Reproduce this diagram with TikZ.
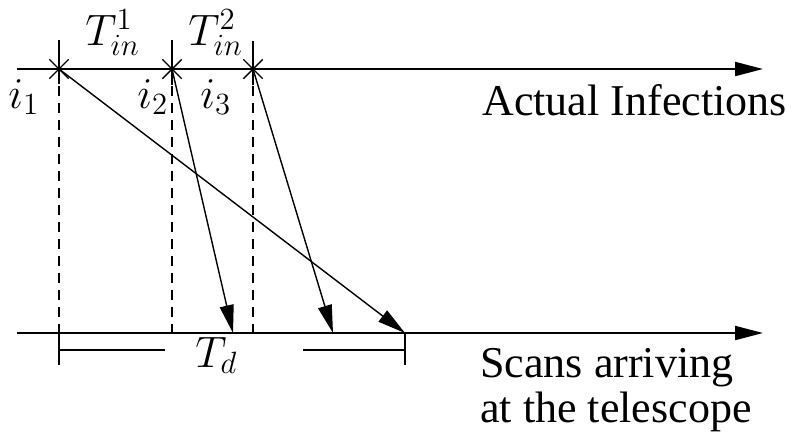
\documentclass[tikz,border=0pt]{standalone}
\usepackage{fix-cm}
\usepackage[no-math]{fontspec}
\setmainfont{Liberation Serif}
\newfontfamily\captionfont{Liberation Serif}
\usepackage{tikz}
\usetikzlibrary{arrows.meta, shapes.misc}
\tikzset{
  timeline/.style={-{Triangle[length=14pt, width=7pt]}, line width=1pt},
  scanarrow/.style={-{Triangle[length=14pt, width=7pt]}, line width=0.7pt},
  guide/.style={dash pattern=on 5pt off 3.5pt, line width=1pt},
  tickmark/.style={line width=0.9pt},
  infection/.style={cross out, draw, minimum size=9pt, inner sep=0pt,
                    line width=0.7pt},
  lbl/.style={font=\fontsize{22}{22.5}\selectfont, inner sep=0pt},
  caption/.style={font=\captionfont\fontsize{22}{22.5}\selectfont,
                  inner sep=0pt},
}

\begin{document}
\begin{tikzpicture}[x=0.5pt, y=-0.5pt]
  \useasboundingbox (0,0) rectangle (801,435);

  % the two time axes
  \coordinate (infstart) at (17,69);
  \coordinate (infend) at (763,69);
  \coordinate (scanstart) at (17,333);
  \coordinate (scanend) at (763,333);
  \draw[timeline] (infstart) -- (infend);
  \draw[timeline] (scanstart) -- (scanend);

  % infections and where their scans arrive
  \node[infection] (inf1) at (59,69) {};
  \node[infection] (inf2) at (172,69) {};
  \node[infection] (inf3) at (253,69) {};
  \coordinate (proj1) at (59,333);
  \coordinate (proj2) at (172,333);
  \coordinate (proj3) at (253,333);
  \coordinate (arr1) at (405,333);
  \coordinate (arr2) at (233,333);
  \coordinate (arr3) at (333,333);

  \draw[guide] (inf1.center) -- (proj1);
  \draw[guide] (inf2.center) -- (proj2);
  \draw[guide] (inf3.center) -- (proj3);

  \coordinate (up1) at (59,40);
  \coordinate (up2) at (172,40);
  \coordinate (up3) at (253,41);
  \coordinate (low1) at (59,84);
  \coordinate (low2) at (172,85);
  \coordinate (low3) at (253,85);
  \coordinate (down1) at (59,365);
  \coordinate (down2) at (405,365);
  \draw[tickmark] (up1) -- (low1);
  \draw[tickmark] (up2) -- (low2);
  \draw[tickmark] (up3) -- (low3);
  \draw[tickmark] (proj1) -- (down1);
  \draw[tickmark] (arr1) -- (down2);

  \draw[scanarrow] (inf1.center) -- (arr1);
  \draw[scanarrow] (inf2.center) -- (arr2);
  \draw[scanarrow] (inf3.center) -- (arr3);

  % delay
  \coordinate (dimL) at (59,350);
  \coordinate (dimLend) at (165,350);
  \coordinate (dimRstart) at (303,350);
  \coordinate (dimR) at (405,350);
  \draw[tickmark] (dimL) -- (dimLend);
  \draw[tickmark] (dimRstart) -- (dimR);

  % labels
  \node[lbl, anchor=base west] (tin1) at (85,45) {$T_{in}^1$};
  \node[lbl, anchor=base west] (tin2) at (188,45) {$T_{in}^2$};
  \node[lbl, anchor=base west] (lab1) at (8,108) {$i_1$};
  \node[lbl, anchor=base west] (lab2) at (137,108) {$i_2$};
  \node[lbl, anchor=base west] (lab3) at (200,108) {$i_3$};
  \node[lbl, anchor=base west] (delay) at (195,367) {$T_d$};
  \node[caption, anchor=base west] (actual) at (482,115) {Actual Infections};
  \node[caption, anchor=base west] (scans) at (480,377) {Scans arriving};
  \node[caption, anchor=base west] (scope) at (480,422) {at the telescope};
\end{tikzpicture}
\end{document}
